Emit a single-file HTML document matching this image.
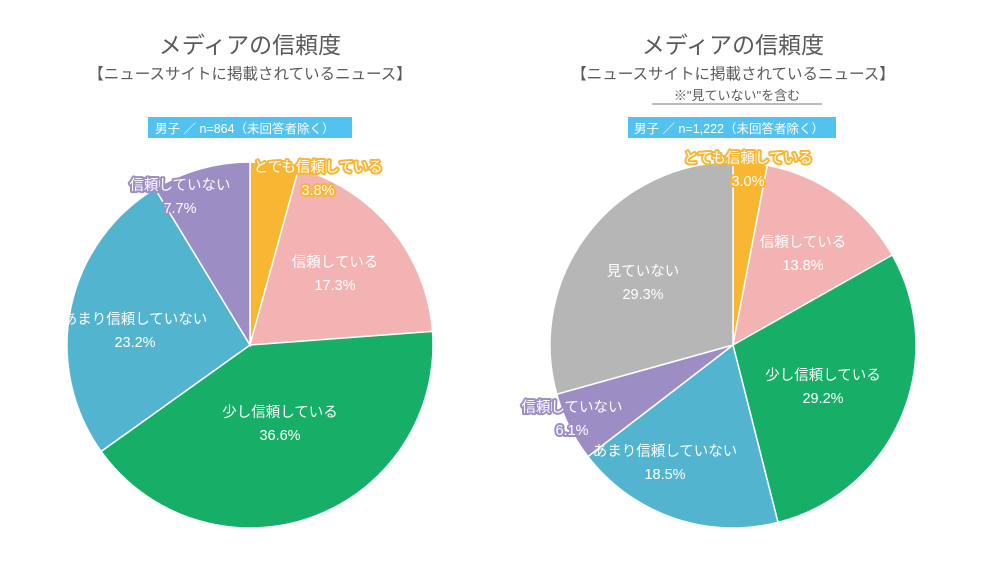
<!DOCTYPE html>
<html><head><meta charset="utf-8"><style>
body{margin:0;background:#fff;}
svg{display:block;font-family:"Liberation Sans","Noto Sans CJK JP",sans-serif;}
</style></head><body>
<svg id="c" width="1000" height="562">
<g>
<text x="250" y="53" text-anchor="middle" font-size="23" fill="#5a5a5a">メディアの信頼度</text>
<text x="250" y="79" text-anchor="middle" font-size="15.5" fill="#5a5a5a">【ニュースサイトに掲載されているニュース】</text>
<rect x="148" y="117" width="204" height="21" fill="#52C2F0"/>
<text x="155" y="133" font-size="12.5" fill="#fff">男子 ／ n=864（未回答者除く）</text>
</g>
<g>
<text x="733" y="53" text-anchor="middle" font-size="23" fill="#5a5a5a">メディアの信頼度</text>
<text x="733" y="79" text-anchor="middle" font-size="15.5" fill="#5a5a5a">【ニュースサイトに掲載されているニュース】</text>
<text x="737" y="100" text-anchor="middle" font-size="13" fill="#5a5a5a">※"見ていない"を含む</text>
<line x1="652" y1="104" x2="822" y2="104" stroke="#777" stroke-width="1"/>
<rect x="628" y="117" width="208" height="21" fill="#52C2F0"/>
<text x="634" y="133" font-size="12.5" fill="#fff">男子 ／ n=1,222（未回答者除く）</text>
</g>
</svg>
<script>
const leftCategories=["とても信頼している","信頼している","少し信頼している","あまり信頼していない","信頼していない"];
const leftValues=[3.8,17.3,36.6,23.2,7.7];
const rightCategories=["とても信頼している","信頼している","少し信頼している","あまり信頼していない","信頼していない","見ていない"];
const rightValues=[3.0,13.8,29.2,18.5,6.1,29.3];

const colorMap={"とても信頼している":"#F8B632","信頼している":"#F4B3B3","少し信頼している":"#17AE67","あまり信頼していない":"#53B4D0","信頼していない":"#9C8EC5","見ていない":"#B6B6B6"};
const leftLabelPos=[[318,172,"out"],[335,267],[280,417],[135,324],[180,190,"out"]];
const rightLabelPos=[[748,163,"out"],[803,247],[823,380],[665,456],[572,412,"out"],[643,276]];
const NS="http://www.w3.org/2000/svg";
const svg=document.getElementById('c');
function el(t,a){const e=document.createElementNS(NS,t);for(const k in a)e.setAttribute(k,a[k]);return e;}
function pie(name,cx,cy,r,cats,vals,labelPos){
  const g=el('g',{});
  
  
  svg.appendChild(g);
  const total=vals.reduce((a,b)=>a+b,0);
  let a0=0;
  vals.forEach((v,i)=>{
    const a1=a0+v/total*Math.PI*2;
    const x0=cx+r*Math.sin(a0),y0=cy-r*Math.cos(a0),x1=cx+r*Math.sin(a1),y1=cy-r*Math.cos(a1);
    const large=(a1-a0)>Math.PI?1:0;
    const p=el('path',{d:`M${cx},${cy}L${x0},${y0}A${r},${r} 0 ${large} 1 ${x1},${y1}Z`,fill:colorMap[cats[i]],stroke:'#fff','stroke-width':1.5});
    
    
    g.appendChild(p);
    a0=a1;
  });
  vals.forEach((v,i)=>{
    const [lx,ly,out]=labelPos[i];
    const col=colorMap[cats[i]];
    [[cats[i],ly],[v.toFixed(1)+'%',ly+23]].forEach((s,j)=>{
      const t=el('text',{x:lx,y:s[1],'text-anchor':'middle','font-size':14.5,fill:'#fff'});
      if(out){t.setAttribute('stroke',col);t.setAttribute('stroke-width',4);t.setAttribute('paint-order','stroke');t.setAttribute('stroke-linejoin','round');}
      t.textContent=s[0];
      
      
      g.appendChild(t);
    });
  });
}
pie('left-pie',250,345,183,leftCategories,leftValues,leftLabelPos);
pie('right-pie',733,345,183,rightCategories,rightValues,rightLabelPos);
</script>
</body></html>
